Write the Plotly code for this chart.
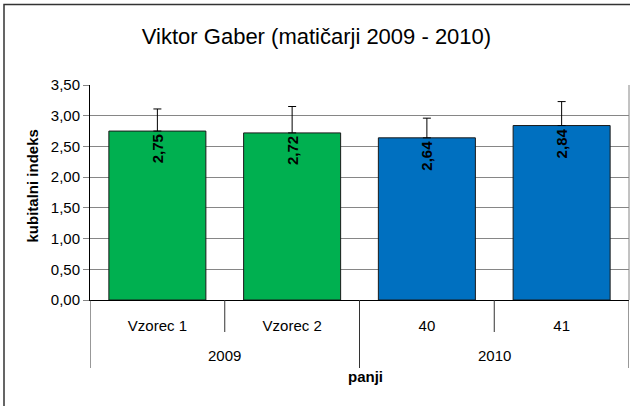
import plotly.graph_objects as go

years = ["2009", "2009", "2010", "2010"]
samples = ["Vzorec 1", "Vzorec 2", "40", "41"]
values = [2.75, 2.72, 2.64, 2.84]
errors_plus = [0.36, 0.43, 0.32, 0.39]
colors = ["#00B050", "#00B050", "#0070C0", "#0070C0"]

title_text = "Viktor Gaber (matičarji 2009 - 2010)"
y_title = "kubitalni indeks"
x_title = "panji"

W, H = 630, 406
L, R, T, B = 90, 1, 85, 106
FONT = "Liberation Sans, Arial, sans-serif"

pw = W - L - R
ph = H - T - B


def px_x(p):
    return (p - L) / pw


def px_y(p):
    return (H - B - p) / ph


fig = go.Figure()
fig.add_trace(go.Bar(
    x=samples,
    y=values,
    marker=dict(color=colors, line=dict(color="#1a1a1a", width=1)),
    error_y=dict(type="data", array=errors_plus, arrayminus=[0] * len(values),
                 symmetric=False, color="#000000", thickness=1, width=4),
    texttemplate="%{y:.2f}",
    textposition="inside",
    insidetextanchor="end",
    textangle=-90,
    constraintext="none",
    textfont=dict(family=FONT, size=15, color="#000000", weight="bold"),
    hoverinfo="skip",
))

# group structure from the data
groups = []
for i, yv in enumerate(years):
    if not groups or groups[-1][0] != yv:
        groups.append([yv, i, i])
    else:
        groups[-1][2] = i

shapes = []
annotations = []
# long dividers at group boundaries
bounds = [g[1] - 0.5 for g in groups] + [groups[-1][2] + 0.5]
for bx in bounds:
    shapes.append(dict(type="line", xref="x", yref="paper", x0=bx, x1=bx,
                       y0=0, y1=px_y(368), line=dict(color="#333333", width=1)))
# short dividers between categories inside a group
for g in groups:
    for k in range(g[1], g[2]):
        shapes.append(dict(type="line", xref="x", yref="paper", x0=k + 0.5, x1=k + 0.5,
                           y0=0, y1=px_y(332), line=dict(color="#333333", width=1)))
    annotations.append(dict(text=g[0], xref="x", yref="paper", x=(g[1] + g[2]) / 2,
                            y=px_y(355), yanchor="middle", xanchor="center",
                            showarrow=False, font=dict(family=FONT, size=15)))

annotations.append(dict(text=x_title, xref="paper", yref="paper", x=px_x(365),
                        y=px_y(376), xanchor="center", yanchor="middle", showarrow=False,
                        font=dict(family=FONT, size=15, weight="bold")))
annotations.append(dict(text=y_title, xref="paper", yref="paper", x=px_x(32),
                        y=px_y(186.5), xanchor="center", yanchor="middle", textangle=-90,
                        showarrow=False, font=dict(family=FONT, size=15, weight="bold")))

shapes.append(dict(type="line", xref="paper", yref="paper", x0=1, x1=1, y0=0, y1=1,
                   line=dict(color="#868686", width=1)))
shapes.append(dict(type="rect", xref="paper", yref="paper",
                   x0=px_x(4), x1=px_x(W + 10), y0=px_y(H + 10), y1=px_y(4.5),
                   line=dict(color="#333333", width=1.5), layer="below"))

fig.update_layout(
    width=W, height=H,
    margin=dict(l=L, r=R, t=T, b=B, pad=0),
    paper_bgcolor="white", plot_bgcolor="white",
    separators=",.",
    bargap=0.28,
    showlegend=False,
    font=dict(family=FONT, size=15, color="#000000"),
    title=dict(text=title_text, x=316.5 / W, xanchor="center", y=1 - 36 / H,
               yanchor="middle", yref="container", xref="container",
               font=dict(family=FONT, size=22, color="#000000")),
    yaxis=dict(
        range=[0, 3.5], dtick=0.5, tickformat=".2f",
        showgrid=True, gridcolor="#868686", gridwidth=1,
        showline=True, linecolor="#000000", linewidth=1,
        ticks="outside", ticklen=6, tickcolor="#868686",
        tickfont=dict(family=FONT, size=15),
        zeroline=False, automargin=False,
    ),
    xaxis=dict(
        type="category", range=[-0.5, len(samples) - 0.5],
        showline=True, linecolor="#000000", linewidth=1,
        ticks="", ticklabelstandoff=12,
        tickfont=dict(family=FONT, size=15),
        automargin=False,
    ),
    shapes=shapes,
    annotations=annotations,
)

fig.write_html("out.html", config={"displayModeBar": False},
               post_script="document.body.style.margin='0';document.body.style.overflow='hidden';")
